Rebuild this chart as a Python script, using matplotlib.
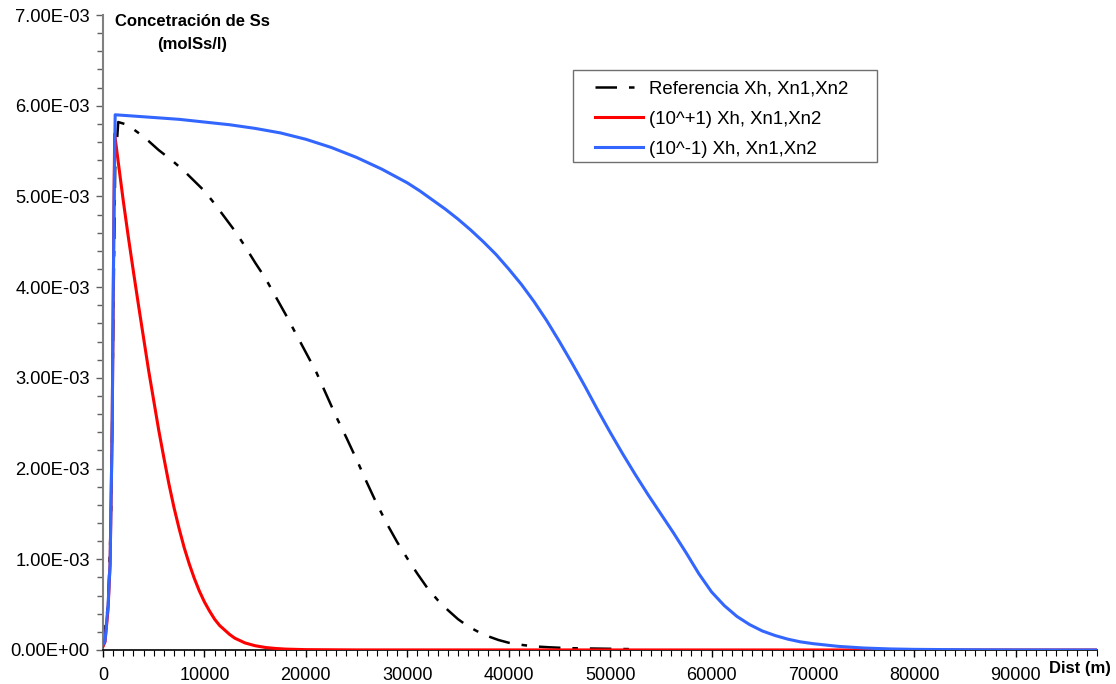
import numpy as np
import matplotlib.pyplot as plt
from matplotlib.ticker import MultipleLocator, FuncFormatter
from matplotlib.patches import Rectangle

plt.rcParams['font.family'] = ['Liberation Sans', 'DejaVu Sans']
plt.rcParams['lines.scale_dashes'] = False

# distance (m) and Ss concentration (mol/l) for each run
dist_ref = [0, 500, 800, 1000, 1200, 1500, 2400, 3500, 4500, 5500, 6770, 8000,
            9000, 10000, 11000, 12000, 13000, 14000, 15000, 16000, 17000,
            18000, 19000, 20000, 21000, 22000, 23000, 24000, 25000, 26000,
            27000, 28000, 29000, 30000, 31000, 32000, 33000, 34000, 35000,
            36000, 37000, 38000, 39000, 40000, 41000, 42500, 44000, 46000,
            49000, 52000]
ss_ref = [0.04e-3, 0.5e-3, 1.5e-3, 3.5e-3, 5.3e-3, 5.82e-3, 5.79e-3, 5.70e-3,
          5.61e-3, 5.51e-3, 5.40e-3, 5.28e-3, 5.17e-3, 5.06e-3, 4.92e-3,
          4.77e-3, 4.62e-3, 4.45e-3, 4.27e-3, 4.10e-3, 3.90e-3, 3.70e-3,
          3.49e-3, 3.28e-3, 3.07e-3, 2.82e-3, 2.57e-3, 2.34e-3, 2.10e-3,
          1.85e-3, 1.61e-3, 1.39e-3, 1.19e-3, 1.01e-3, 0.84e-3, 0.68e-3,
          0.55e-3, 0.44e-3, 0.34e-3, 0.26e-3, 0.20e-3, 0.15e-3, 0.11e-3,
          0.08e-3, 0.06e-3, 0.04e-3, 0.03e-3, 0.02e-3, 0.015e-3, 0.01e-3]

dist_up = [0, 200, 500, 700, 900, 1080, 1150, 1500, 2000, 2500, 3000, 3500,
           4000, 4500, 5000, 5500, 6000, 6500, 7000, 7500, 8000, 8500, 9000,
           9500, 10000, 10500, 11000, 11500, 12000, 12500, 13000, 14000,
           15000, 16000, 17000, 18000, 20000, 25000, 98000]
ss_up = [0.04e-3, 0.09e-3, 0.45e-3, 0.95e-3, 2.4e-3, 4.85e-3, 5.69e-3,
         5.38e-3, 4.95e-3, 4.55e-3, 4.17e-3, 3.80e-3, 3.44e-3, 3.08e-3,
         2.75e-3, 2.42e-3, 2.12e-3, 1.83e-3, 1.57e-3, 1.34e-3, 1.13e-3,
         0.95e-3, 0.79e-3, 0.65e-3, 0.53e-3, 0.43e-3, 0.34e-3, 0.27e-3,
         0.22e-3, 0.17e-3, 0.13e-3, 0.078e-3, 0.047e-3, 0.028e-3, 0.017e-3,
         0.010e-3, 0.004e-3, 0.001e-3, 0.0]

dist_down = [0, 200, 500, 700, 900, 1080, 1200, 2500, 5000, 7500, 10000,
             12500, 15000, 17500, 20000, 22500, 25000, 27500, 30000, 31250,
             32500, 33750, 35000, 36250, 37500, 38750, 40000, 41250, 42500,
             43750, 45000, 46250, 47500, 48750, 50000, 51250, 52500, 53750,
             55000, 56250, 57500, 58750, 60000, 61250, 62500, 63750, 65000,
             66250, 67500, 68750, 70000, 72500, 75000, 77500, 80000, 85000,
             90000, 98000]
ss_down = [0.06e-3, 0.10e-3, 0.50e-3, 0.95e-3, 2.4e-3, 4.85e-3, 5.90e-3,
           5.89e-3, 5.87e-3, 5.85e-3, 5.82e-3, 5.79e-3, 5.75e-3, 5.70e-3,
           5.63e-3, 5.54e-3, 5.43e-3, 5.30e-3, 5.15e-3, 5.06e-3, 4.96e-3,
           4.86e-3, 4.75e-3, 4.63e-3, 4.50e-3, 4.36e-3, 4.20e-3, 4.03e-3,
           3.84e-3, 3.63e-3, 3.40e-3, 3.16e-3, 2.91e-3, 2.65e-3, 2.40e-3,
           2.16e-3, 1.93e-3, 1.71e-3, 1.50e-3, 1.29e-3, 1.07e-3, 0.84e-3,
           0.64e-3, 0.49e-3, 0.37e-3, 0.28e-3, 0.21e-3, 0.16e-3, 0.12e-3,
           0.09e-3, 0.07e-3, 0.04e-3, 0.022e-3, 0.012e-3, 0.007e-3, 0.003e-3,
           0.001e-3, 0.0]

labels = ['Referencia Xh, Xn1,Xn2', '(10^+1) Xh, Xn1,Xn2', '(10^-1) Xh, Xn1,Xn2']

W, H = 1116, 684
fig = plt.figure(figsize=(W / 100, H / 100), dpi=100)
ax = fig.add_axes([103 / W, 34 / H, 994 / W, 635 / H])

ax.plot(dist_ref, ss_ref, color='black', lw=1.8,
        linestyle=(0, (15.5, 8.6, 4.0, 8.6)), label=labels[0], zorder=2)
ax.plot(dist_up, ss_up, color='#FF0000', lw=2.2, label=labels[1], zorder=3)
ax.plot(dist_down, ss_down, color='#3366FF', lw=2.2, label=labels[2], zorder=4)

ax.set_xlim(0, 98000)
ax.set_ylim(0, 7e-3)
ax.xaxis.set_major_locator(MultipleLocator(10000))
ax.xaxis.set_minor_locator(MultipleLocator(1000))
ax.yaxis.set_major_locator(MultipleLocator(1e-3))
ax.yaxis.set_minor_locator(MultipleLocator(2e-4))
ax.yaxis.set_major_formatter(FuncFormatter(lambda v, _: f'{v:.2E}'))
ax.xaxis.set_major_formatter(FuncFormatter(lambda v, _: f'{v:.0f}'))

for s in ('top', 'right'):
    ax.spines[s].set_visible(False)
ax.spines['left'].set_color('#808080')
ax.spines['left'].set_linewidth(1.5)
ax.spines['bottom'].set_color('black')
ax.spines['bottom'].set_linewidth(1.2)

ax.tick_params(axis='y', which='major', direction='out', length=5, width=1,
               color='#606060', labelsize=13.2, pad=4.5)
ax.tick_params(axis='y', which='minor', direction='out', length=4, width=1,
               color='#606060')
ax.tick_params(axis='x', which='major', direction='out', length=5, width=1,
               color='black', labelsize=13, pad=7.5)
ax.tick_params(axis='x', which='minor', direction='out', length=4, width=0.8,
               color='black')

# axis titles
fig.text(192 / W, 1 - 21.5 / H, 'Concetración de Ss', ha='center', va='center',
         fontsize=12, fontweight='bold')
fig.text(192 / W, 1 - 45 / H, '(molSs/l)', ha='center', va='center',
         fontsize=12, fontweight='bold')
fig.text(1080 / W, 1 - 669 / H, 'Dist (m)', ha='center', va='center',
         fontsize=12, fontweight='bold')

# legend with its own box
box = Rectangle((573 / W, 1 - 162 / H), 304 / W, 92 / H, transform=fig.transFigure,
                facecolor='white', edgecolor='#707070', lw=1.0, zorder=5, clip_on=False)
ax.add_patch(box)
ax.legend(loc='center left', bbox_to_anchor=(595 / W, 1 - 119 / H),
          bbox_transform=fig.transFigure, frameon=False, fontsize=13.4,
          borderpad=0, borderaxespad=0, handlelength=2.58, handletextpad=0.33,
          labelspacing=0.70).set_zorder(6)

fig.savefig('out.png', dpi=100)
